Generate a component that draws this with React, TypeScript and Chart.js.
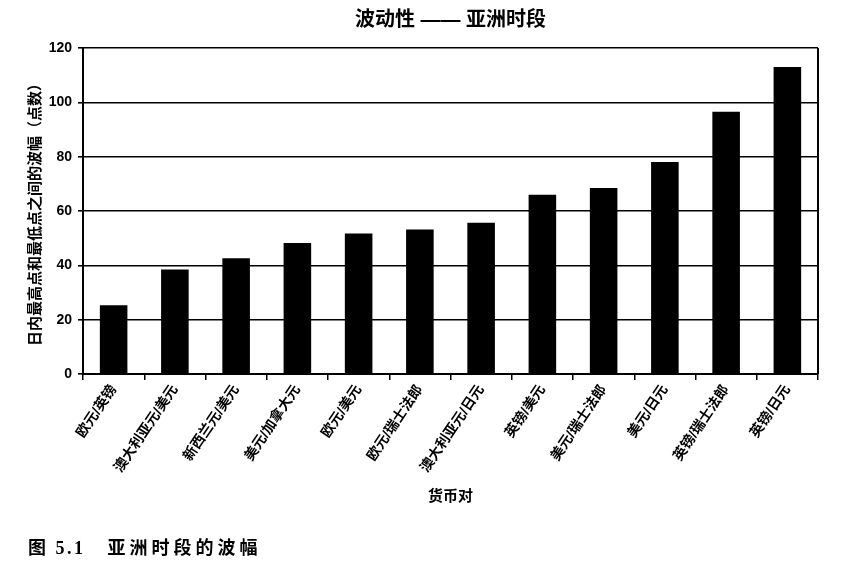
import React, { useEffect, useRef } from "react";
import { Chart, registerables } from "chart.js";

Chart.register(...registerables);

const categories: string[] = [
  "欧元/英镑",
  "澳大利亚元/美元",
  "新西兰元/美元",
  "美元/加拿大元",
  "欧元/美元",
  "欧元/瑞士法郎",
  "澳大利亚元/日元",
  "英镑/美元",
  "美元/瑞士法郎",
  "美元/日元",
  "英镑/瑞士法郎",
  "英镑/日元",
];

const ranges: number[] = [25.3, 38.5, 42.6, 48.2, 51.7, 53.2, 55.7, 66, 68.5, 78, 96.5, 113];

const yTicks: number[] = [0, 20, 40, 60, 80, 100, 120];

const titleText = "波动性 —— 亚洲时段";
const yTitle = "日内最高点和最低点之间的波幅（点数）";
const xTitle = "货币对";
const captionNum = "图 5.1";
const captionText = "亚洲时段的波幅";

const CJK = '"Liberation Sans", "Noto Sans CJK SC", sans-serif';

const frame = {
  id: "frameRight",
  afterDatasetsDraw(chart: any) {
    const { ctx, chartArea } = chart;
    ctx.save();
    ctx.strokeStyle = "#000";
    ctx.lineWidth = 2;
    ctx.beginPath();
    ctx.moveTo(chartArea.right, chartArea.top);
    ctx.lineTo(chartArea.right, chartArea.bottom);
    ctx.stroke();
    ctx.restore();
  },
};

const centeredTitle = {
  id: "centeredTitle",
  afterDraw(chart: any) {
    const { ctx, chartArea } = chart;
    ctx.save();
    ctx.fillStyle = "#000";
    ctx.font = `bold 20px ${CJK}`;
    ctx.textAlign = "center";
    ctx.textBaseline = "middle";
    ctx.fillText(titleText, (chartArea.left + chartArea.right) / 2, chartArea.top - 28);
    ctx.restore();
  },
};

export default function App() {
  const ref = useRef<HTMLCanvasElement | null>(null);

  useEffect(() => {
    if (!ref.current) return;
    const chart = new Chart(ref.current, {
      type: "bar",
      data: {
        labels: categories,
        datasets: [
          {
            data: ranges,
            backgroundColor: "#000",
            borderWidth: 0,
            barPercentage: 0.45,
            categoryPercentage: 1,
          },
        ],
      },
      options: {
        responsive: false,
        animation: false,
        layout: { padding: { left: 22, right: 24, top: 48, bottom: 54 } },
        plugins: {
          legend: { display: false },
          tooltip: { enabled: false },
          title: { display: false },
        },
        scales: {
          y: {
            min: 0,
            max: 120,
            afterBuildTicks: (scale: any) => {
              scale.ticks = yTicks.map((v) => ({ value: v }));
            },
            afterFit: (scale: any) => {
              scale.width = 61;
            },
            ticks: {
              color: "#000",
              font: { family: CJK, size: 14, weight: "bold" },
              padding: 6,
            },
            grid: {
              color: "#000",
              lineWidth: 1.6,
              tickLength: 5,
              drawTicks: true,
            },
            border: { display: true, color: "#000", width: 2 },
            title: {
              display: true,
              text: yTitle,
              color: "#000",
              font: { family: CJK, size: 15, weight: "bold" },
              padding: { top: 5, bottom: 4 },
            },
          },
          x: {
            afterFit: (scale: any) => {
              scale.height = 136;
            },
            ticks: {
              color: "#000",
              font: { family: CJK, size: 14, weight: "bold" },
              minRotation: 56,
              maxRotation: 56,
              autoSkip: false,
              padding: 2,
            },
            grid: {
              drawOnChartArea: false,
              drawTicks: true,
              offset: true,
              tickLength: 6,
              color: "#000",
              lineWidth: 1.5,
            },
            border: { display: true, color: "#000", width: 2 },
            title: {
              display: true,
              text: xTitle,
              color: "#000",
              font: { family: CJK, size: 15, weight: "bold" },
              padding: { top: 4, bottom: 4 },
            },
          },
        },
      },
      plugins: [frame, centeredTitle],
    } as any);
    return () => chart.destroy();
  }, []);

  return (
    <div
      style={{
        position: "absolute",
        left: 0,
        top: 0,
        width: 842,
        height: 564,
        background: "#fff",
      }}
    >
      <canvas ref={ref} width={842} height={564} style={{ display: "block" }} />
      <div
        style={{
          position: "absolute",
          left: 28,
          top: 537,
          fontFamily: '"Liberation Serif", "Noto Sans CJK SC", serif',
          fontWeight: "bold",
          fontSize: 18,
          color: "#000",
          whiteSpace: "pre",
          lineHeight: "22px",
        }}
      >
        <span style={{ letterSpacing: 2.5 }}>{captionNum}</span>
        <span style={{ display: "inline-block", width: 22 }} />
        <span style={{ letterSpacing: 4 }}>{captionText}</span>
      </div>
    </div>
  );
}
